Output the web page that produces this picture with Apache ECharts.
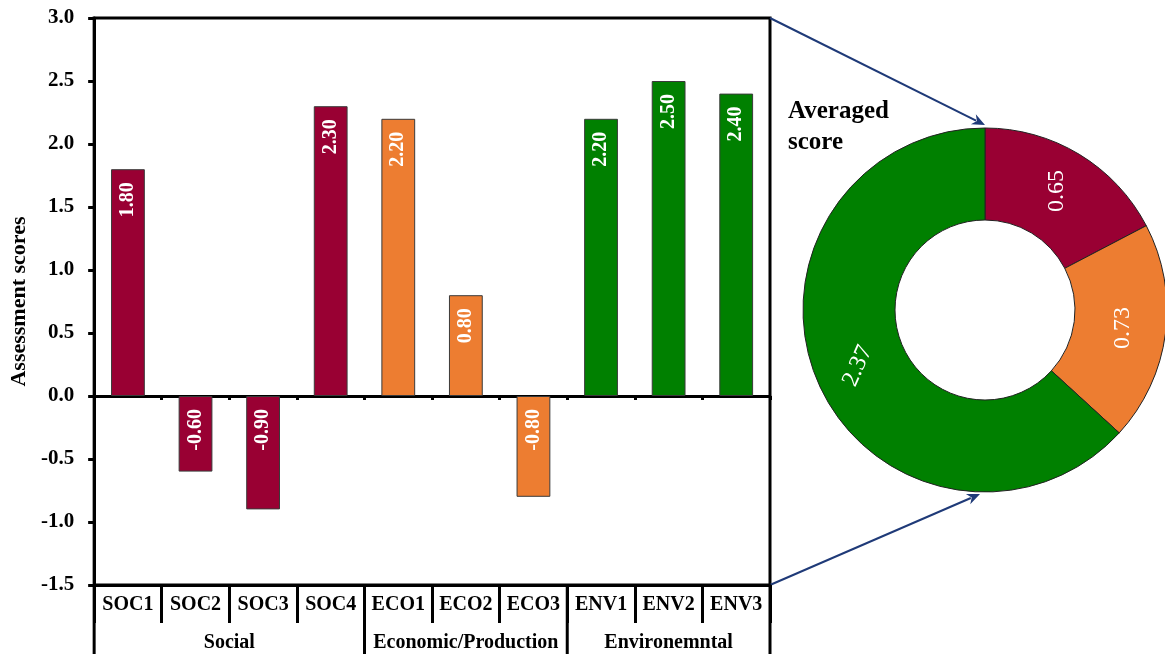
<!DOCTYPE html>
<html>
<head>
<meta charset="utf-8">
<script src="https://cdn.jsdelivr.net/npm/echarts@6/dist/echarts.min.js"></script>
<style>
  html, body { margin: 0; padding: 0; background: #fff; }
  #chart { width: 1165px; height: 654px; }
</style>
</head>
<body>
<div id="chart"></div>
<script>
// Indicator scores grouped by sustainability dimension
const categories = ['SOC1', 'SOC2', 'SOC3', 'SOC4', 'ECO1', 'ECO2', 'ECO3', 'ENV1', 'ENV2', 'ENV3'];
const scores = [1.80, -0.60, -0.90, 2.30, 2.20, 0.80, -0.80, 2.20, 2.50, 2.40];

// Dimensions: name, number of indicators, colour
const groupNames = ['Social', 'Economic/Production', 'Environemntal'];
const groupSizes = [4, 3, 3];
const groupColors = ['#990033', '#ED7D31', '#008000'];

// Averaged score per dimension (donut)
const averagedScores = [0.65, 0.73, 2.37];
const averagedTitle = 'Averaged\nscore';
const yAxisTitle = 'Assessment scores';

// Value axis range
const yMin = -1.5, yMax = 3.0, yStep = 0.5;

const FONT = '"Liberation Serif", "Times New Roman", serif';
const PIE_CENTER = [985, 310];
const PIE_RADIUS = [90, 182];
const ARROW_COLOR = '#1F3A78';

// colour of each bar, taken from its dimension
const barColors = [];
groupSizes.forEach((n, g) => { for (let i = 0; i < n; i++) barColors.push(groupColors[g]); });

const chart = echarts.init(document.getElementById('chart'), null, { renderer: 'canvas' });

const option = {
  backgroundColor: '#fff',
  animation: false,
  grid: {
    left: 93, right: 395, top: 18, bottom: 69,
    show: true, borderColor: '#000', borderWidth: 3
  },
  xAxis: [
    {
      // axis drawn at zero
      type: 'category',
      data: categories,
      axisLine: { onZero: true, lineStyle: { color: '#000', width: 3 } },
      axisTick: { show: true, interval: 0, length: 4, lineStyle: { color: '#000', width: 3 } },
      axisLabel: { show: false },
      splitLine: { show: false }
    },
    {
      // category labels along the bottom of the plot
      type: 'category',
      data: categories,
      position: 'bottom',
      axisLine: { onZero: false, lineStyle: { color: '#000', width: 3 } },
      axisTick: { show: true, interval: 0, length: 38, lineStyle: { color: '#000', width: 3 } },
      axisLabel: {
        interval: 0,
        color: '#000', fontFamily: FONT, fontWeight: 'bold', fontSize: 20, margin: 10
      },
      splitLine: { show: false }
    }
  ],
  yAxis: {
    type: 'value',
    min: yMin, max: yMax, interval: yStep,
    name: yAxisTitle,
    nameLocation: 'middle',
    nameGap: 61,
    nameTextStyle: { color: '#000', fontFamily: FONT, fontWeight: 'bold', fontSize: 22 },
    axisLine: { show: true, lineStyle: { color: '#000', width: 3 } },
    axisTick: { show: true, length: 6, lineStyle: { color: '#000', width: 3 } },
    axisLabel: {
      color: '#000', fontFamily: FONT, fontWeight: 'bold', fontSize: 21, margin: 20,
      formatter: v => v.toFixed(1)
    },
    splitLine: { show: false }
  },
  series: [
    {
      type: 'bar',
      xAxisIndex: 0,
      barWidth: '50%',
      data: scores.map((v, i) => ({
        value: v,
        itemStyle: { color: barColors[i], borderColor: '#3a3a3a', borderWidth: 1 }
      })),
      label: {
        show: true,
        position: 'insideTop',
        distance: 13,
        rotate: 90,
        align: 'right',
        verticalAlign: 'middle',
        color: '#fff',
        fontFamily: FONT,
        fontWeight: 'bold',
        fontSize: 20,
        formatter: p => p.value.toFixed(2)
      }
    },
    {
      type: 'pie',
      center: PIE_CENTER,
      radius: PIE_RADIUS,
      startAngle: 90,
      clockwise: true,
      avoidLabelOverlap: false,
      data: averagedScores.map((v, i) => ({
        name: groupNames[i],
        value: v,
        itemStyle: { color: groupColors[i] },
        label: { rotate: i === 2 ? 66 : 90 }
      })),
      itemStyle: { borderColor: '#222', borderWidth: 1 },
      label: {
        show: true,
        position: 'inside',
        color: '#fff',
        fontFamily: FONT,
        fontSize: 24,
        formatter: p => p.value.toFixed(2)
      },
      labelLine: { show: false },
      emphasis: { disabled: true }
    }
  ]
};

chart.setOption(option);

// Dimension labels, separators and the call-out arrows, placed through the axes
function buildOverlay() {
  const xAt = name => chart.convertToPixel({ xAxisIndex: 1 }, name);
  const band = xAt(categories[1]) - xAt(categories[0]);
  const yTop = chart.convertToPixel({ yAxisIndex: 0 }, yMax);
  const yBottom = chart.convertToPixel({ yAxisIndex: 0 }, yMin);
  const H = chart.getHeight();
  const elements = [];

  let start = 0;
  const edges = [xAt(categories[0]) - band / 2];
  groupSizes.forEach((n, g) => {
    const left = xAt(categories[start]) - band / 2;
    const right = xAt(categories[start + n - 1]) + band / 2;
    edges.push(right);
    elements.push({
      type: 'text',
      style: {
        text: groupNames[g], x: (left + right) / 2, y: 643,
        font: 'bold 20px ' + FONT, fill: '#000',
        textAlign: 'center', textVerticalAlign: 'middle'
      }
    });
    start += n;
  });
  edges.forEach(x => {
    elements.push({
      type: 'line',
      shape: { x1: x, y1: yBottom, x2: x, y2: H },
      style: { stroke: '#000', lineWidth: 3 }
    });
  });

  // arrows from the plot corners to the donut
  const xRight = edges[edges.length - 1];
  const arrows = [
    [xRight, yTop, PIE_CENTER[0], PIE_CENTER[1] - PIE_RADIUS[1] - 3],
    [xRight, yBottom, PIE_CENTER[0] - 5, PIE_CENTER[1] + PIE_RADIUS[1] + 2]
  ];
  arrows.forEach(([x1, y1, x2, y2]) => {
    const dx = x2 - x1, dy = y2 - y1, len = Math.hypot(dx, dy);
    const ux = dx / len, uy = dy / len;
    const head = 13, half = 5.5;
    const bx = x2 - ux * head, by = y2 - uy * head;
    elements.push({
      type: 'line',
      shape: { x1: x1, y1: y1, x2: bx + ux * 3, y2: by + uy * 3 },
      style: { stroke: ARROW_COLOR, lineWidth: 2 }
    });
    elements.push({
      type: 'polygon',
      shape: { points: [[x2, y2], [bx - uy * half, by + ux * half], [bx + ux * 4, by + uy * 4], [bx + uy * half, by - ux * half]] },
      style: { fill: ARROW_COLOR }
    });
  });

  elements.push({
    type: 'text',
    style: {
      text: averagedTitle, x: 788, y: 96,
      font: 'bold 25px ' + FONT, fill: '#000',
      textAlign: 'left', textVerticalAlign: 'top', lineHeight: 31
    }
  });

  chart.setOption({ graphic: { elements: elements } });
}

buildOverlay();
</script>
</body>
</html>
